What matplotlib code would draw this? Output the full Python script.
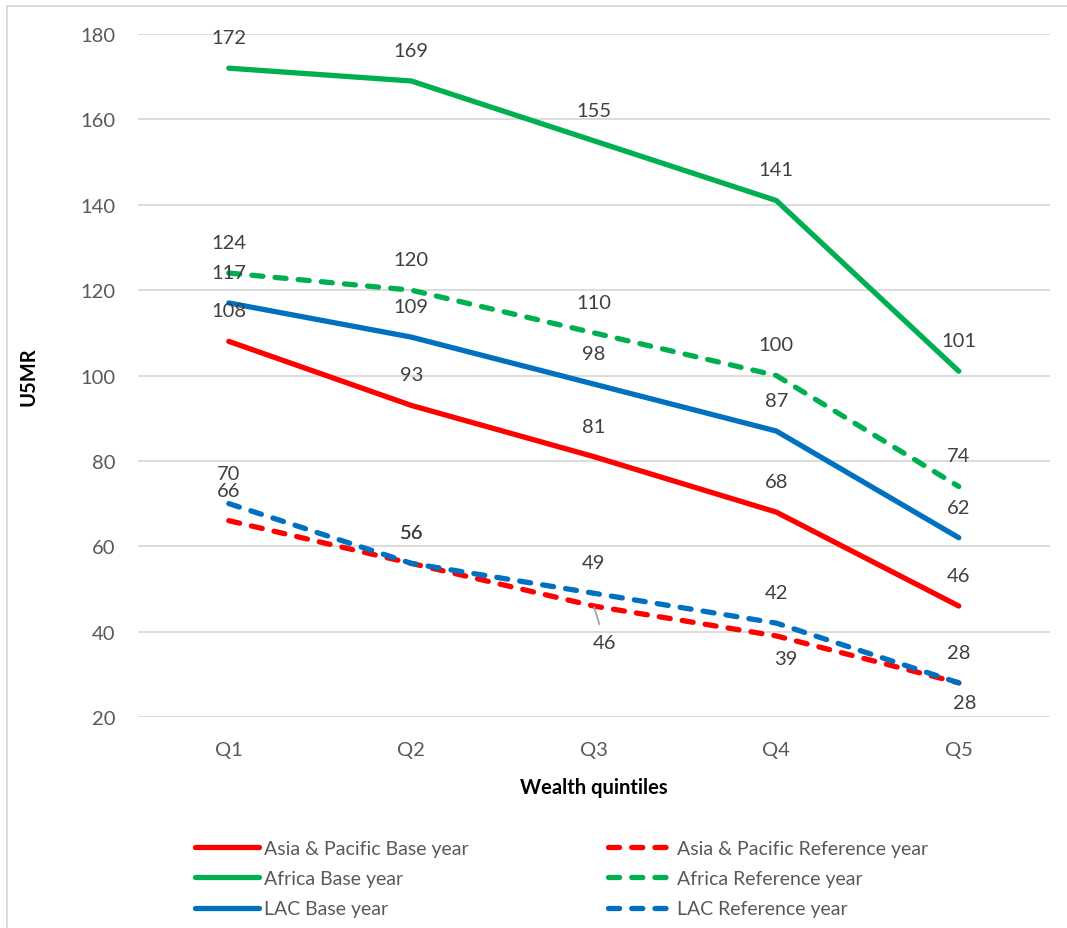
import matplotlib
matplotlib.use("Agg")
import matplotlib.pyplot as plt
from matplotlib.lines import Line2D

plt.rcParams['font.family'] = ['Lato', 'DejaVu Sans']

# Under-five mortality rate by wealth quintile
quintiles = ["Q1", "Q2", "Q3", "Q4", "Q5"]
asia_base = [108, 93, 81, 68, 46]
africa_base = [172, 169, 155, 141, 101]
lac_base = [117, 109, 98, 87, 62]
asia_ref = [66, 56, 46, 39, 28]
africa_ref = [124, 120, 110, 100, 74]
lac_ref = [70, 56, 49, 42, 28]

series_names = [
    "Asia & Pacific Base year", "Africa Base year", "LAC Base year",
    "Asia & Pacific Reference year", "Africa Reference year", "LAC Reference year",
]

RED, GREEN, BLUE = "#FF0000", "#00B050", "#0070C0"
TXT = "#595959"
LBL = "#404040"

fig = plt.figure(figsize=(10.67, 9.29), dpi=100)
ax = fig.add_axes([0.1289, 0.2271, 0.8552, 0.7352])

x = list(range(len(quintiles)))
lw = 3.8
dash = (2.1, 2.3)

def solid(vals, color):
    return ax.plot(x, vals, color=color, lw=lw, solid_capstyle='round',
                   solid_joinstyle='round', zorder=3)[0]

def dashed(vals, color):
    return ax.plot(x, vals, color=color, lw=lw, dashes=dash,
                   dash_capstyle='round', dash_joinstyle='round', zorder=3)[0]

h_asia_b = solid(asia_base, RED)
h_afr_b = solid(africa_base, GREEN)
h_lac_b = solid(lac_base, BLUE)
h_asia_r = dashed(asia_ref, RED)
h_afr_r = dashed(africa_ref, GREEN)
h_lac_r = dashed(lac_ref, BLUE)

ax.set_xlim(-0.5, 4.5)
ax.set_ylim(20, 180)
ax.set_yticks(range(20, 181, 20))
ax.set_xticks(x)
ax.set_xticklabels(quintiles)
ax.grid(axis='y', color='#D9D9D9', lw=1.3)
ax.set_axisbelow(True)
for s in ax.spines.values():
    s.set_visible(False)
ax.tick_params(axis='both', length=0, labelsize=14.5, colors=TXT)
ax.tick_params(axis='y', pad=16)
ax.tick_params(axis='x', pad=17)

ax.set_xlabel("Wealth quintiles", fontsize=14.5, fontweight='bold', color='black', labelpad=14)
ax.set_ylabel("U5MR", fontsize=14.5, fontweight='bold', color='black', labelpad=30)

# data labels: default above each point
def label_above(vals, skip=()):
    for i, v in enumerate(vals):
        if i in skip:
            continue
        ax.annotate(f"{v}", (i, v), xytext=(0, 22), textcoords='offset points',
                    ha='center', va='center', fontsize=14.5, color=LBL, zorder=4)

label_above(africa_base)
label_above(africa_ref)
label_above(lac_base)
label_above(asia_base)
label_above(lac_ref)
label_above(asia_ref, skip=(2, 3, 4))

# Asia & Pacific reference labels placed below the line
ax.annotate(f"{asia_ref[2]}", (2, asia_ref[2]), xytext=(8, -26), textcoords='offset points',
            ha='center', va='center', fontsize=14.5, color=LBL, zorder=4,
            arrowprops=dict(arrowstyle='-', color='#A6A6A6', lw=1.3,
                            shrinkA=5, shrinkB=1))
ax.annotate(f"{asia_ref[3]}", (3, asia_ref[3]), xytext=(6.5, -16.5), textcoords='offset points',
            ha='center', va='center', fontsize=14.5, color=LBL, zorder=4)
ax.annotate(f"{asia_ref[4]}", (4, asia_ref[4]), xytext=(4, -14), textcoords='offset points',
            ha='center', va='center', fontsize=14.5, color=LBL, zorder=4)

# legend in two columns below the plot
leg_kw = dict(frameon=False, fontsize=14, handlelength=3.3, handletextpad=0.25,
              labelspacing=0.68, borderaxespad=0, borderpad=0, labelcolor=TXT)
leg1 = fig.legend([h_asia_b, h_afr_b, h_lac_b], series_names[:3],
                  loc='upper left', bbox_to_anchor=(195 / 1067, 1 - 841 / 929), **leg_kw)
leg2 = fig.legend([h_asia_r, h_afr_r, h_lac_r], series_names[3:],
                  loc='upper left', bbox_to_anchor=(608 / 1067, 1 - 841 / 929), **leg_kw)

# chart frame (top and left edges)
fig.add_artist(Line2D([7 / 1067, 7 / 1067], [0, 1 - 7 / 929], transform=fig.transFigure,
                      color='#D9D9D9', lw=1.3))
fig.add_artist(Line2D([7 / 1067, 1], [1 - 7 / 929, 1 - 7 / 929], transform=fig.transFigure,
                      color='#D9D9D9', lw=1.3))

fig.savefig("out.png", dpi=100)
